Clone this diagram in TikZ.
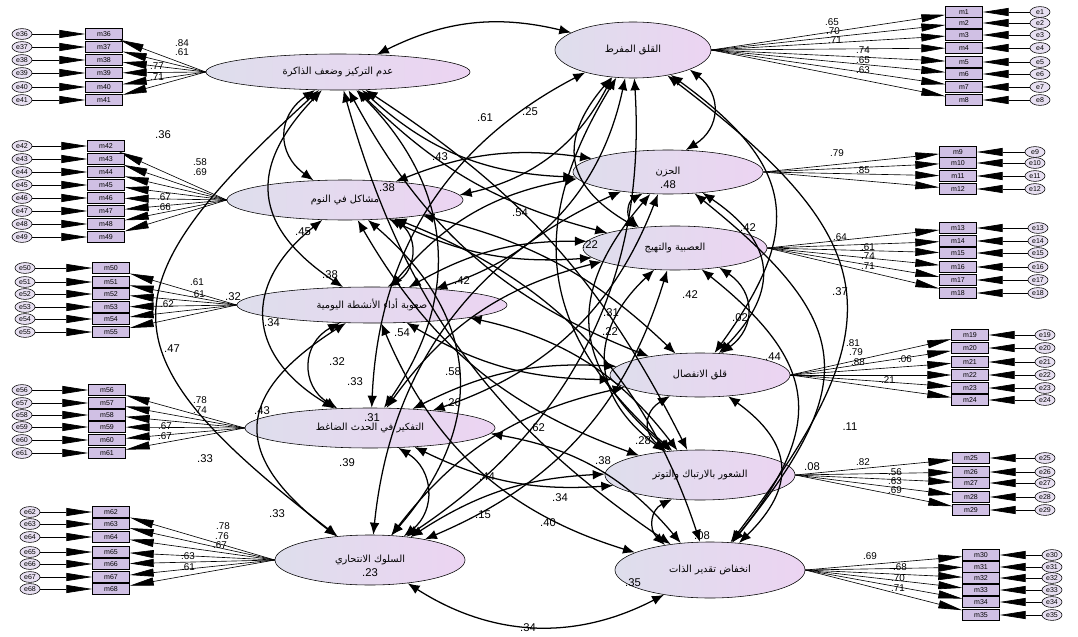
\documentclass[tikz,border=0pt]{standalone}
\usepackage{fontspec}
\setmainfont{Liberation Sans}
\newfontfamily\arabicfont[Script=Arabic]{DejaVu Sans}
\TeXXeTstate=1
\usetikzlibrary{shapes.geometric}
\usetikzlibrary{arrows.meta}
\definecolor{latleft}{RGB}{222,222,236}
\definecolor{latright}{RGB}{236,212,242}
\definecolor{boxfill}{RGB}{208,192,228}
\definecolor{errfill}{RGB}{232,224,242}
\newcommand{\artxt}[1]{{\arabicfont\beginR #1\endR}}

\begin{document}
\begin{tikzpicture}[x=0.025cm,y=-0.025cm]
  \useasboundingbox (0,0) rectangle (1078,637);
  \tikzstyle{latent}=[draw,shape=ellipse,inner sep=0pt,left color=latleft,right color=latright,font=\scriptsize]
  \tikzstyle{item}=[draw,rectangle,fill=boxfill,minimum width=0.92cm,minimum height=0.28cm,inner sep=0pt,font=\tiny]
  \tikzstyle{err}=[draw,shape=ellipse,fill=errfill,minimum width=0.5cm,minimum height=0.27cm,inner sep=0pt,font=\tiny]
  \tikzstyle{load}=[-{Triangle[length=6mm,width=2mm]},line width=0.45pt]
  \tikzstyle{eload}=[-{Triangle[length=6.5mm,width=2mm]},line width=0.5pt]
  \tikzstyle{cov}=[{Latex[length=3mm,width=2.4mm]}-{Latex[length=3mm,width=2.4mm]},line width=0.9pt]
  \tikzstyle{coef}=[font=\footnotesize,inner sep=1pt]
  \tikzstyle{wgt}=[font=\scriptsize,inner sep=0pt]
% factors
  \node[latent,minimum width=6.6cm,minimum height=0.9cm]   (memory)     at (338,72)  {\artxt{عدم التركيز وضعف الذاكرة}};
  \node[latent,minimum width=3.9cm,minimum height=1.4cm]   (anxiety)    at (633,50)  {\artxt{القلق المفرط}};
  \node[latent,minimum width=5.9cm,minimum height=1.0cm]   (sleep)      at (345,200) {\artxt{مشاكل في النوم}};
  \node[latent,minimum width=4.75cm,minimum height=1.1cm]  (sadness)    at (668,172) {\artxt{الحزن}};
  \node[latent,minimum width=4.6cm,minimum height=1.1cm]   (irritab)    at (675,248) {\artxt{العصبية والتهيج}};
  \node[latent,minimum width=6.75cm,minimum height=0.9cm]  (daily)      at (372,305) {\artxt{صعوبة أداء الأنشطة اليومية}};
  \node[latent,minimum width=4.5cm,minimum height=1.1cm]   (separation) at (700,375) {\artxt{قلق الانفصال}};
  \node[latent,minimum width=6.25cm,minimum height=1.0cm]  (trauma)     at (370,428) {\artxt{التفكير في الحدث الضاغط}};
  \node[latent,minimum width=4.75cm,minimum height=1.25cm] (confusion)  at (700,475) {\artxt{الشعور بالارتباك والتوتر}};
  \node[latent,minimum width=4.75cm,minimum height=1.25cm] (suicide)    at (370,560) {\artxt{السلوك الانتحاري}};
  \node[latent,minimum width=4.75cm,minimum height=1.4cm]  (esteem)     at (710,570) {\artxt{انخفاض تقدير الذات}};
% items on the left
  \foreach \f/\bx/\ex/\list in {memory/104/22/{36/34,37/47,38/60,39/73,40/87,41/100},
      sleep/106/22/{42/146,43/159,44/172,45/185,46/198,47/211,48/224,49/237},
      daily/111/25/{50/268,51/282,52/294,53/307,54/319,55/332},
      trauma/107/22/{56/390,57/403,58/415,59/427,60/440,61/453},
      suicide/111/30/{62/512,63/524,64/537,65/552,66/564,67/577,68/589}}{
    \foreach \i/\y in \list{
      \node[item] (m\i) at (\bx,\y) {m\i};
      \node[err]  (e\i) at (\ex,\y) {e\i};
      \draw[eload] (e\i) -- (m\i);
      \draw[load] (\f.west) -- (m\i);
    }
  }
% items on the right
  \foreach \f/\bx/\ex/\list in {anxiety/964/1040/{1/12,2/23,3/35,4/48,5/62,6/74,7/87,8/100},
      sadness/958/1035/{9/152,10/163,11/176,12/189},
      irritab/958/1038/{13/228,14/241,15/253,16/267,17/280,18/293},
      separation/970/1045/{19/335,20/348,21/362,22/375,23/388,24/400},
      confusion/971/1045/{25/458,26/472,27/483,28/497,29/510},
      esteem/981/1052/{30/555,31/567,32/578,33/590,34/602,35/615}}{
    \foreach \i/\y in \list{
      \node[item] (m\i) at (\bx,\y) {m\i};
      \node[err]  (e\i) at (\ex,\y) {e\i};
      \draw[eload] (e\i) -- (m\i);
      \draw[load] (\f.east) -- (m\i);
    }
  }
% correlations between the factors
  \foreach \a/\b/\ang/\lse in {
      memory/sleep/-55/1.3, memory/daily/-50/1.4, memory/trauma/40/1.1, memory/suicide/-50/1.7,
      sleep/daily/55/1.2, sleep/trauma/-55/1.4, sleep/suicide/45/1.2,
      daily/trauma/-60/1.3, daily/suicide/-55/1.6, trauma/suicide/55/1.2,
      anxiety/sadness/55/1.3, anxiety/irritab/-50/1.4, anxiety/separation/45/1.4, anxiety/confusion/-40/1.2, anxiety/esteem/45/1.5,
      sadness/irritab/-55/1.3, sadness/separation/50/1.4, sadness/confusion/-45/1.3, sadness/esteem/45/1.5,
      irritab/separation/55/1.3, irritab/confusion/-50/1.3, irritab/esteem/45/1.4,
      separation/confusion/-55/1.4, separation/esteem/50/1.4, confusion/esteem/-55/1.3,
      memory/anxiety/20/1, memory/sadness/-20/1, memory/irritab/-15/1, memory/separation/-20/1, memory/confusion/15/1, memory/esteem/-20/1,
      sleep/anxiety/-25/1, sleep/sadness/15/1, sleep/irritab/-15/1, sleep/separation/15/1, sleep/confusion/-20/1, sleep/esteem/25/1,
      daily/anxiety/-30/1, daily/sadness/20/1, daily/irritab/15/1, daily/separation/-15/1, daily/confusion/20/1, daily/esteem/-25/1,
      trauma/anxiety/30/1, trauma/sadness/-25/1, trauma/irritab/20/1, trauma/separation/15/1, trauma/confusion/-15/1, trauma/esteem/20/1,
      suicide/anxiety/-30/1, suicide/sadness/30/1, suicide/irritab/-25/1, suicide/separation/20/1, suicide/confusion/15/1, suicide/esteem/-30/1}{
    \draw[cov] (\a) to[bend left=\ang,looseness=\lse] (\b);
  }
  \foreach \x/\y/\v [count=\k] in {530/112/.25, 485/118/.61, 440/157/.43, 387/188/.38, 303/232/.45, 520/213/.54,
      163/135/.36, 330/275/.38, 462/281/.42, 690/295/.42, 748/228/.42, 840/292/.37, 740/318/.02, 611/313/.31,
      610/332/.22, 402/333/.54, 337/362/.32, 355/382/.33, 453/372/.58, 453/403/.26, 172/349/.47, 262/411/.43,
      205/459/.33, 347/463/.39, 277/514/.33, 487/477/.44, 560/498/.34, 603/461/.38, 643/441/.28, 483/515/.15,
      548/523/.40, 702/536/.08, 812/467/.08, 850/427/.11, 773/357/.44, 528/628/.34, 537/428/.62, 233/297/.32,
      668/185/.48, 590/245/.22, 272/323/.34, 372/418/.31, 370/573/.23, 633/583/.35}{
    \node[coef] (c\k) at (\x,\y) {\v};
  }
% loadings
  \foreach \x/\y/\v [count=\k] in {182/43/.84, 182/52/.61, 157/66/.77, 157/77/.71,
      200/162/.58, 200/172/.69, 164/197/.67, 164/207/.66,
      197/282/.61, 198/294/.61, 167/304/.62,
      200/400/.78, 200/410/.74, 165/426/.67, 165/436/.67,
      223/526/.78, 222/536/.76, 220/545/.67, 188/556/.63, 188/567/.61,
      832/22/.65, 833/31/.70, 835/40/.71, 863/50/.74, 863/60/.65, 863/70/.63,
      837/153/.79, 863/170/.85,
      840/237/.64, 868/247/.61, 868/256/.74, 868/266/.71,
      853/343/.81, 856/352/.79, 858/362/.88, 905/359/.06, 888/380/.21,
      863/462/.82, 895/472/.56, 895/481/.63, 895/490/.69,
      870/556/.69, 900/567/.68, 898/578/.70, 898/588/.71}{
    \node[wgt] (w\k) at (\x,\y) {\v};
  }
\end{tikzpicture}
\end{document}
